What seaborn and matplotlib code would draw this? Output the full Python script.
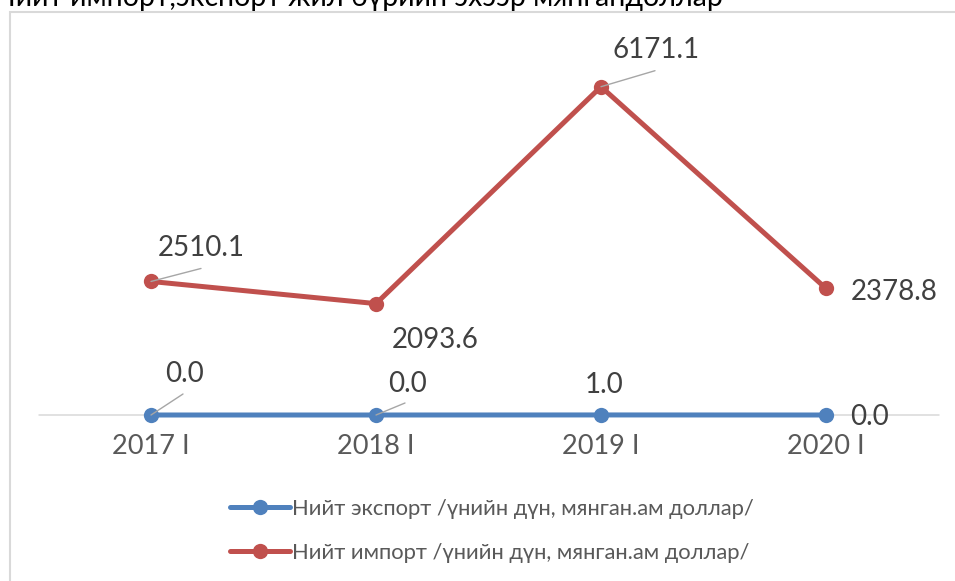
import pandas as pd
import matplotlib
matplotlib.use("Agg")
import matplotlib.pyplot as plt
import seaborn as sns
from matplotlib.patches import Rectangle

# ============ Data ============
periods = ["2017 I", "2018 I", "2019 I", "2020 I"]
export_vals = [0.0, 0.0, 1.0, 0.0]
import_vals = [2510.1, 2093.6, 6171.1, 2378.8]
export_name = "Нийт экспорт /үнийн дүн, мянган.ам доллар/"
import_name = "Нийт импорт /үнийн дүн, мянган.ам доллар/"
title = "Нийт импорт,экспорт жил бүрийн эхээр мянгандоллар"

df = pd.DataFrame({
    "period": periods * 2,
    "value": export_vals + import_vals,
    "series": [export_name] * len(periods) + [import_name] * len(periods),
})

# ============ Style ============
sns.set_theme(style="white")
plt.rcParams['font.family'] = ['Lato', 'Noto Sans', 'DejaVu Sans']

blue = '#4F81BD'
red = '#C0504D'
label_color = '#404040'
tick_color = '#595959'
leader_color = '#a6a6a6'

W, H = 955, 581
fig = plt.figure(figsize=(W / 100, H / 100), dpi=100)
ax = fig.add_axes([38.5 / W, (H - 415) / H, 900 / W, 372.4 / H])

# chart frame (partly outside the picture)
fig.add_artist(Rectangle((9.5 / W, -0.1), 1.2, (H - 12) / H + 0.1,
                         transform=fig.transFigure, fill=False,
                         edgecolor='#d9d9d9', lw=1.5))

ax.axhline(0, color='#d9d9d9', lw=1.1, zorder=0, clip_on=False)

sns.lineplot(data=df, x="period", y="value", hue="series",
             palette=[blue, red], marker='o', markersize=11,
             markeredgewidth=0, linewidth=3.6, sort=False, ax=ax,
             clip_on=False)

ax.set_xlim(-0.5, len(periods) - 0.5)
ax.set_ylim(0, 7000)
ax.set_yticks([])
ax.set_xticks(range(len(periods)))
ax.set_xticklabels(periods, fontsize=19.5, color=tick_color)
ax.tick_params(axis='x', length=0, pad=14)
ax.set_xlabel('')
ax.set_ylabel('')
sns.despine(ax=ax, left=True, bottom=True)

# ============ Data labels ============
# (text offset px, leader end offset px or None)
import_offsets = [((7, 25), (50, 13)), ((16, -44), None),
                  ((11, 29), (54, 16)), ((25, -12), None)]
export_offsets = [((14, 33), (32, 21)), ((12, 23), (29, 12)),
                  ((-16, 22), None), ((24, -10), None)]

for vals, offs in [(import_vals, import_offsets), (export_vals, export_offsets)]:
    for i, (v, (txt_off, lead_off)) in enumerate(zip(vals, offs)):
        ax.annotate(f"{v:.1f}", xy=(i, 0 if v < 100 else v), xytext=txt_off,
                    textcoords='offset pixels', ha='left', va='baseline',
                    fontsize=20, color=label_color, annotation_clip=False)
        if lead_off is not None:
            ax.annotate('', xy=(i, 0 if v < 100 else v), xytext=lead_off,
                        textcoords='offset pixels', annotation_clip=False,
                        arrowprops=dict(arrowstyle='-', color=leader_color,
                                        lw=1, shrinkA=0, shrinkB=0))

# ============ Legend ============
leg = ax.legend(loc='center', bbox_to_anchor=(492 / W, 1 - 531 / H),
                bbox_transform=fig.transFigure, frameon=False, fontsize=15.8,
                handlelength=2.7, handletextpad=0.1, labelspacing=1.1)
for t in leg.get_texts():
    t.set_color(tick_color)

# ============ Title (clipped at top) ============
fig.text(-6 / W, 1 - 6 / H, title, ha='left', va='baseline',
         fontsize=20.5, color='black')

fig.savefig('out.png', dpi=100)
